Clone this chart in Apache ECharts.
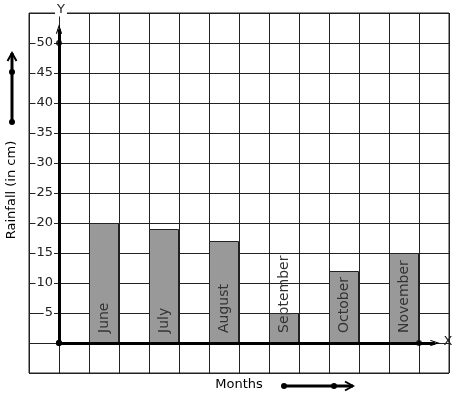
<!DOCTYPE html>
<html>
<head>
<meta charset="utf-8">
<script src="https://cdn.jsdelivr.net/npm/echarts@6/dist/echarts.min.js"></script>
<style>
  body { margin: 0; background: #fff; }
  #main { width: 457px; height: 399px; }
</style>
</head>
<body>
<div id="main"></div>
<script>
// 月份和降雨量
const months = ['June', 'July', 'August', 'September', 'October', 'November'];
const rainfall = [20, 19, 17, 5, 12, 15];
// y轴刻度标签
const yLabels = [5, 10, 15, 20, 25, 30, 35, 40, 45, 50];

const font = 'DejaVu Sans';
const ink = '#222';
// 箭头形状（尖朝上）
const chevron = 'path://M0,9 L5,0 L10,9 L8.6,9.9 L5,3.3 L1.4,9.9 Z';

// 每个月份占两格，柱子在奇数格
let barData = months.map((m, i) => [2 * i + 1.5, rainfall[i]]);

let chart = echarts.init(document.getElementById('main'), null, { renderer: 'canvas' });

let option = {
  animation: false,
  grid: {
    left: 29, top: 13, width: 420, height: 360,
    show: true, borderColor: ink, borderWidth: 1
  },
  xAxis: {
    type: 'value', min: -1, max: 13, interval: 1,
    axisLine: { show: false },
    axisTick: { show: false },
    axisLabel: { show: false },
    splitLine: { show: true, lineStyle: { color: ink, width: 1 } }
  },
  yAxis: {
    type: 'value', min: -5, max: 55, interval: 5,
    axisLine: { show: false },
    axisTick: { show: false },
    axisLabel: {
      inside: true,
      align: 'right',
      margin: 25,
      fontFamily: font,
      fontSize: 13,
      color: ink,
      backgroundColor: '#fff',
      padding: [0, 1],
      formatter: v => yLabels.indexOf(v) >= 0 ? String(v) : ''
    },
    splitLine: { show: true, lineStyle: { color: ink, width: 1 } }
  },
  series: [
    {
      type: 'bar',
      data: barData,
      barWidth: 30,
      itemStyle: { color: '#999999', borderColor: ink, borderWidth: 1 },
      label: {
        show: true,
        position: 'insideBottom',
        rotate: 90,
        align: 'left',
        verticalAlign: 'middle',
        distance: 10,
        fontFamily: font,
        fontSize: 14,
        color: '#333',
        formatter: p => months[p.dataIndex]
      },
      markLine: {
        silent: true,
        symbol: ['circle', chevron],
        symbolSize: [6, 10],
        label: { show: false },
        lineStyle: { color: '#000', width: 3, type: 'solid' },
        data: [
          [{ coord: [0, 0] }, { coord: [12.53, 0] }],
          [{ coord: [0, 0] }, { coord: [0, 52.3] }]
        ]
      },
      z: 2
    },
    {
      // 坐标轴上的小圆点
      type: 'scatter',
      data: [[0, 50], [12, 0]],
      symbolSize: 6,
      itemStyle: { color: '#000' },
      silent: true,
      z: 5
    }
  ],
  graphic: [
    {
      type: 'text', x: 61, y: 10, z: 100,
      style: {
        text: 'Y', font: '13px "DejaVu Sans"', fill: ink,
        align: 'center', verticalAlign: 'middle',
        backgroundColor: '#fff', padding: [0, 2]
      }
    },
    {
      type: 'text', x: 448, y: 342, z: 100,
      style: {
        text: 'X', font: '13px "DejaVu Sans"', fill: ink,
        align: 'center', verticalAlign: 'middle'
      }
    },
    {
      type: 'text', x: 239, y: 385, z: 100,
      style: {
        text: 'Months', font: '13px "DejaVu Sans"', fill: '#000',
        align: 'center', verticalAlign: 'middle'
      }
    },
    {
      type: 'text', x: 12, y: 190, rotation: Math.PI / 2, z: 100,
      style: {
        text: 'Rainfall (in cm)', font: '13px "DejaVu Sans"', fill: '#000',
        align: 'center', verticalAlign: 'middle'
      }
    },
    // 左侧向上箭头
    {
      type: 'polyline', z: 100,
      shape: { points: [[12, 122], [12, 53]] },
      style: { stroke: '#000', lineWidth: 3, fill: null }
    },
    {
      type: 'polyline', z: 100,
      shape: { points: [[7.5, 61], [12, 53], [16.5, 61]] },
      style: { stroke: '#000', lineWidth: 2, fill: null }
    },
    { type: 'circle', z: 101, shape: { cx: 12, cy: 72, r: 3 }, style: { fill: '#000' } },
    { type: 'circle', z: 101, shape: { cx: 12, cy: 122, r: 3 }, style: { fill: '#000' } },
    // 底部向右箭头
    {
      type: 'polyline', z: 100,
      shape: { points: [[284, 386], [353, 386]] },
      style: { stroke: '#000', lineWidth: 3, fill: null }
    },
    {
      type: 'polyline', z: 100,
      shape: { points: [[345, 381.5], [353, 386], [345, 390.5]] },
      style: { stroke: '#000', lineWidth: 2, fill: null }
    },
    { type: 'circle', z: 101, shape: { cx: 284, cy: 386, r: 3 }, style: { fill: '#000' } },
    { type: 'circle', z: 101, shape: { cx: 334, cy: 386, r: 3 }, style: { fill: '#000' } }
  ]
};

chart.setOption(option);
</script>
</body>
</html>
